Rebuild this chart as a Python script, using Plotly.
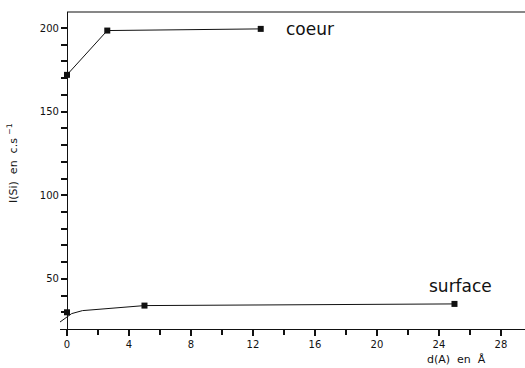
import plotly.graph_objects as go

# Measured intensities I(Si) (counts per second) versus depth d(A)
coeur_d = [0, 2.6, 12.5]
coeur_i = [172, 198.5, 199.5]

surface_d = [0, 5, 25]
surface_i = [30, 34, 35]

# Smoothed trend drawn through the surface points
surface_fit_d = [-0.55, 0.3, 1.0, 5, 25]
surface_fit_i = [23.5, 29.2, 31, 34, 35]

x_range = [-0.45, 29.55]
y_range = [20, 209.6]

# Labelled ticks and the finer unlabelled ticks between them
x_major = [0, 4, 8, 12, 16, 20, 24, 28]
x_minor = [2, 6, 10, 14, 18, 22, 26]
y_major = [50, 100, 150, 200]
y_minor = [30, 40, 60, 70, 80, 90, 110, 120, 130, 140, 160, 170, 180, 190]

BLACK = "#111111"
FONT = "DejaVu Sans"

fig = go.Figure()

fig.add_trace(go.Scatter(
    x=coeur_d, y=coeur_i, mode="lines+markers",
    line=dict(color=BLACK, width=1),
    marker=dict(symbol="square", size=6, color=BLACK),
))
fig.add_trace(go.Scatter(
    x=surface_fit_d, y=surface_fit_i, mode="lines",
    line=dict(color=BLACK, width=1),
))
fig.add_trace(go.Scatter(
    x=surface_d, y=surface_i, mode="markers",
    marker=dict(symbol="square", size=6, color=BLACK),
))

W, H = 525, 368
ml, mr, mt, mb = 60, 0, 12, 39
# y axis sits at d = 0, slightly inside the left edge of the plot
yaxis_pos = (0 - x_range[0]) / (x_range[1] - x_range[0])

fig.update_layout(
    width=W, height=H,
    margin=dict(l=ml, r=mr, t=mt, b=mb),
    paper_bgcolor="white", plot_bgcolor="white",
    showlegend=False,
    font=dict(family=FONT, color=BLACK),
    xaxis=dict(
        range=x_range, tickmode="array", tickvals=x_major,
        showline=True, linecolor=BLACK, linewidth=1.2,
        ticks="outside", ticklen=6, tickwidth=1.5, tickcolor=BLACK,
        showgrid=False, zeroline=False,
        minor=dict(tickmode="array", tickvals=x_minor, ticks="outside",
                   ticklen=5, tickwidth=1.5, tickcolor=BLACK, showgrid=False),
        tickfont=dict(size=10, family=FONT, color=BLACK),
    ),
    yaxis=dict(
        range=y_range, tickmode="array", tickvals=y_major,
        anchor="free", position=yaxis_pos,
        showline=True, linecolor=BLACK, linewidth=1.2,
        ticks="outside", ticklen=6, tickwidth=1.5, tickcolor=BLACK,
        showgrid=False, zeroline=False,
        minor=dict(tickmode="array", tickvals=y_minor, ticks="outside",
                   ticklen=6, tickwidth=1.5, tickcolor=BLACK, showgrid=False),
        tickfont=dict(size=10, family=FONT, color=BLACK),
    ),
    shapes=[
        dict(type="line", xref="x", yref="y domain", x0=0, x1=x_range[1],
             y0=1, y1=1, line=dict(color=BLACK, width=1.2)),
    ],
    annotations=[
        dict(text="coeur", x=14.0, y=199.5, xref="x", yref="y",
             xanchor="left", yanchor="middle", showarrow=False,
             font=dict(size=17, family=FONT, color=BLACK)),
        dict(text="surface", x=23.2, y=45.5, xref="x", yref="y",
             xanchor="left", yanchor="middle", showarrow=False,
             font=dict(size=17, family=FONT, color=BLACK)),
        dict(text="d(A)  en  Å", x=456, y=359, xref="paper", yref="paper",
             showarrow=False, font=dict(size=11, family=FONT, color=BLACK),
             xanchor="center", yanchor="middle"),
        dict(text="I(Si)  en  c.s <sup>−1</sup>", x=13, y=163,
             xref="paper", yref="paper", textangle=-90, showarrow=False,
             font=dict(size=11, family=FONT, color=BLACK),
             xanchor="center", yanchor="middle"),
    ],
)

# Convert the pixel placements of the two axis captions into paper coordinates
pw, ph = W - ml - mr, H - mt - mb
for ann in fig.layout.annotations[2:]:
    ann.x = (ann.x - ml) / pw
    ann.y = 1 - (ann.y - mt) / ph

fig.write_html("out.html")
